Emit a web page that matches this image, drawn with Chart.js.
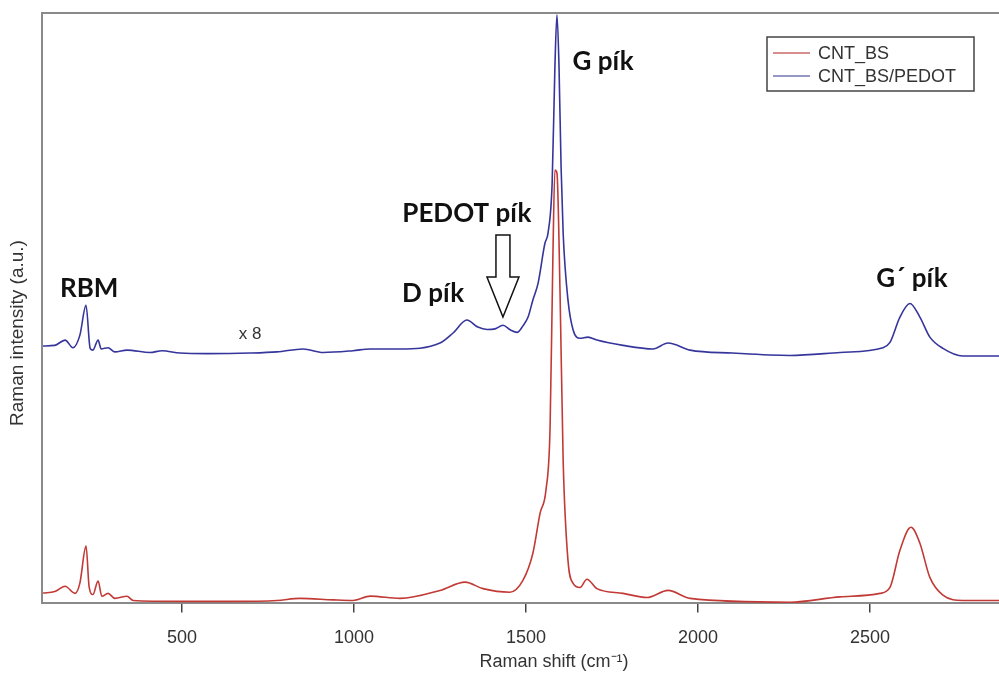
<!DOCTYPE html>
<html>
<head>
<meta charset="utf-8">
<title>Raman</title>
<script src="https://cdn.jsdelivr.net/npm/chart.js@4.4.1/dist/chart.umd.min.js"></script>
<style>
html, body { margin: 0; padding: 0; background: #fff; overflow: hidden; }
canvas { display: block; }
</style>
</head>
<body>
<canvas id="chartRaman" width="999" height="675"></canvas>
<script>
// nombres de las series
let seriesNames = ['CNT_BS', 'CNT_BS/PEDOT'];

// CNT_BS (rojo)
let cntX = [96, 130, 160, 189, 203, 221, 230, 241, 256, 267, 285, 305, 340, 358, 494, 648, 776, 843, 939, 997,
    1047, 1134, 1250, 1323, 1375, 1453, 1491, 1520, 1541, 1558, 1570, 1578, 1584, 1590, 1599, 1608, 1622, 1637,
    1657, 1677, 1706, 1782, 1852, 1913, 1977, 2267, 2413, 2529, 2558, 2587, 2619, 2645, 2674, 2712, 2770, 2875];
let cntY = [1.75, 2.0, 2.9, 1.7, 3.4, 9.7, 2.8, 1.5, 3.8, 1.2, 1.7, 0.85, 1.2, 0.5, 0.35, 0.35, 0.5, 0.85, 0.6, 0.5,
    1.24, 0.85, 2.2, 3.6, 2.5, 1.9, 3.9, 8.5, 15.3, 19.2, 29.8, 58.1, 73.4, 72.9, 52.5, 24.2, 7.3, 3.4,
    2.7, 4.1, 2.5, 1.7, 1.0, 2.2, 0.85, 0.2, 1.1, 1.7, 2.7, 9.0, 12.9, 10.2, 4.4, 1.4, 0.5, 0.5];

// CNT_BS/PEDOT (azul, x 8)
let pedotX = [96, 130, 160, 183, 203, 221, 233, 241, 256, 265, 285, 305, 340, 407, 442, 494, 573, 698, 776, 852, 910, 997,
    1047, 1134, 1250, 1288, 1328, 1360, 1387, 1410, 1433, 1455, 1474, 1491, 1506, 1520, 1535, 1555, 1564, 1576, 1584,
    1590, 1596, 1602, 1608, 1622, 1637, 1657, 1680, 1706, 1782, 1869, 1913, 1977, 2100, 2267, 2413, 2538, 2558, 2587,
    2616, 2645, 2674, 2712, 2770, 2875];
let pedotY = [43.6, 43.7, 44.6, 43.3, 45.4, 50.5, 43.2, 42.9, 44.6, 43.1, 43.3, 42.6, 42.9, 42.5, 42.8, 42.4, 42.3, 42.4, 42.6, 43.1, 42.5, 42.8,
    43.1, 43.1, 44.1, 45.8, 48.0, 46.8, 46.4, 46.5, 47.1, 46.3, 45.9, 47.0, 48.5, 51.4, 54.2, 61.0, 62.7, 71.2, 90.8,
    99.7, 90.8, 73.9, 62.7, 51.4, 46.3, 44.9, 45.1, 44.6, 43.7, 43.1, 44.1, 42.9, 42.4, 42.0, 42.5, 43.3, 44.2, 48.5,
    50.8, 48.5, 45.1, 43.2, 41.9, 41.9];

let xTicks = [500, 1000, 1500, 2000, 2500];

// textos sobre el grafico (posicion en unidades de datos)
let anotaciones = [
    {texto: 'RBM', x: 230, y: 51.9},
    {texto: 'D pík', x: 1230, y: 51.0},
    {texto: 'PEDOT pík', x: 1328, y: 64.6},
    {texto: 'G pík', x: 1724, y: 90.3},
    {texto: 'G\u00B4 pík', x: 2622, y: 53.6}
];
let flecha = {x: 1433, punta: 48.5, base: 55.3, arriba: 62.4};

let colores = ['#c23a35', '#35359c'];
let coloresLeyenda = ['#c86a66', '#7474b0'];

function puntos(xs, ys){
    return xs.map(function(v, i){ return {x: v, y: ys[i]}; });
}

Chart.defaults.font.family = '"Liberation Sans", Arial, sans-serif';
Chart.defaults.color = '#333';

var extras = {
    id: 'extras',
    afterDraw: function(chart){
        var ctx = chart.ctx;
        var area = chart.chartArea;
        var sx = chart.scales.x, sy = chart.scales.y;
        ctx.save();

        // borde superior
        ctx.strokeStyle = '#8a8a8a';
        ctx.lineWidth = 2;
        ctx.beginPath();
        ctx.moveTo(area.left - 1, area.top);
        ctx.lineTo(area.right, area.top);
        ctx.stroke();

        // titulos de ejes
        ctx.fillStyle = '#333';
        ctx.font = '18px "Liberation Sans", Arial';
        ctx.textAlign = 'center';
        ctx.textBaseline = 'middle';
        ctx.fillText('Raman shift (cm\u207B\u00B9)', 554, 662);
        ctx.save();
        ctx.translate(18, 333);
        ctx.rotate(-Math.PI / 2);
        ctx.font = '19px "Liberation Sans", Arial';
        ctx.fillText('Raman intensity (a.u.)', 0, 0);
        ctx.restore();

        // x 8
        ctx.font = '17px "Liberation Sans", Arial';
        ctx.fillText('x 8', sx.getPixelForValue(698), sy.getPixelForValue(45.6));

        // etiquetas en negrita
        ctx.fillStyle = '#111';
        ctx.font = 'bold 26px Lato, "Open Sans", sans-serif';
        ctx.textBaseline = 'alphabetic';
        anotaciones.forEach(function(a){
            ctx.fillText(a.texto, sx.getPixelForValue(a.x), sy.getPixelForValue(a.y));
        });

        // flecha PEDOT
        var fx = sx.getPixelForValue(flecha.x);
        var yP = sy.getPixelForValue(flecha.punta);
        var yB = sy.getPixelForValue(flecha.base);
        var yA = sy.getPixelForValue(flecha.arriba);
        ctx.beginPath();
        ctx.moveTo(fx - 7, yA);
        ctx.lineTo(fx + 7, yA);
        ctx.lineTo(fx + 7, yB);
        ctx.lineTo(fx + 16, yB);
        ctx.lineTo(fx, yP);
        ctx.lineTo(fx - 16, yB);
        ctx.lineTo(fx - 7, yB);
        ctx.closePath();
        ctx.fillStyle = '#fff';
        ctx.fill();
        ctx.strokeStyle = '#111';
        ctx.lineWidth = 1.5;
        ctx.stroke();

        // leyenda
        var lx = 767, ly = 37;
        ctx.fillStyle = '#fff';
        ctx.fillRect(lx, ly, 207, 54);
        ctx.strokeStyle = '#444';
        ctx.lineWidth = 1.5;
        ctx.strokeRect(lx, ly, 207, 54);
        ctx.font = '18px "Liberation Sans", Arial';
        ctx.textAlign = 'left';
        ctx.textBaseline = 'middle';
        seriesNames.forEach(function(n, i){
            var yy = ly + 16 + i * 23;
            ctx.strokeStyle = coloresLeyenda[i];
            ctx.lineWidth = 1.5;
            ctx.beginPath();
            ctx.moveTo(lx + 6, yy);
            ctx.lineTo(lx + 43, yy);
            ctx.stroke();
            ctx.fillStyle = '#333';
            ctx.fillText(n, lx + 51, yy + 1);
        });
        ctx.restore();
    }
};

var chartRaman = new Chart(document.getElementById('chartRaman'), {
    type: 'line',
    data: {
        datasets: [
            {
                label: seriesNames[0],
                data: puntos(cntX, cntY),
                borderColor: colores[0],
                borderWidth: 1.6,
                pointRadius: 0,
                cubicInterpolationMode: 'monotone'
            },
            {
                label: seriesNames[1],
                data: puntos(pedotX, pedotY),
                borderColor: colores[1],
                borderWidth: 1.6,
                pointRadius: 0,
                cubicInterpolationMode: 'monotone'
            }
        ]
    },
    options: {
        responsive: false,
        animation: false,
        devicePixelRatio: 1,
        layout: {padding: {top: 13, left: 34, right: 0, bottom: 11}},
        plugins: {legend: {display: false}, tooltip: {enabled: false}},
        scales: {
            x: {
                type: 'linear',
                min: 93,
                max: 2875,
                afterBuildTicks: function(scale){
                    scale.ticks = xTicks.map(function(v){ return {value: v}; });
                },
                grid: {drawOnChartArea: false, drawTicks: true, tickLength: 9, color: '#444', lineWidth: 1.5},
                border: {color: '#8a8a8a', width: 2},
                ticks: {
                    font: {size: 18}, padding: 15, color: '#333',
                    callback: function(v){ return String(v); }
                }
            },
            y: {
                min: 0,
                max: 100,
                grid: {display: false},
                border: {color: '#8a8a8a', width: 2},
                ticks: {display: false}
            }
        }
    },
    plugins: [extras]
});
</script>
</body>
</html>
